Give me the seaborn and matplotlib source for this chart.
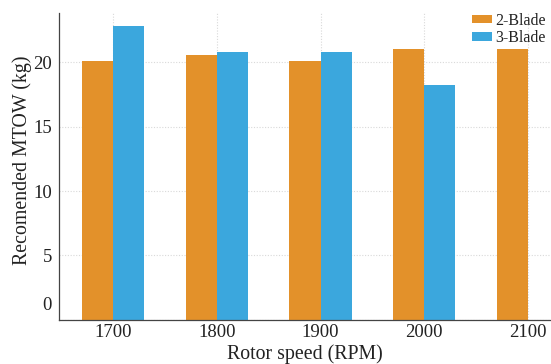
import numpy as np
import pandas as pd
import matplotlib
matplotlib.use("Agg")
import matplotlib.pyplot as plt
import matplotlib.transforms as mtransforms
import seaborn as sns

rpm = ["1700", "1800", "1900", "2000", "2100"]
two_blade = [20.05, 20.55, 20.05, 21.05, 21.05]
three_blade = [22.8, 20.8, 20.8, 18.2, np.nan]
series_names = ["2-Blade", "3-Blade"]
colors = ["#e3912a", "#3ba7dd"]

df = pd.DataFrame({
    "rpm": rpm * 2,
    "mtow": two_blade + three_blade,
    "blade": [series_names[0]] * len(rpm) + [series_names[1]] * len(rpm),
})

sns.set_theme(style="white")
plt.rcParams["font.family"] = ["Liberation Serif", "DejaVu Serif"]

fig = plt.figure(figsize=(5.51, 3.64), dpi=100)
ax = fig.add_axes([0.107, 0.121, 0.893, 0.843])

sns.barplot(data=df, x="rpm", y="mtow", hue="blade", order=rpm,
            hue_order=series_names, palette=colors, width=0.6,
            saturation=1, linewidth=0, ax=ax)

ax.set_xlim(-0.52, 4.22)
ax.set_ylim(0, 23.8)
ax.set_yticks([0, 5, 10, 15, 20])
ax.grid(True, color="#d9d9d9", linestyle=(0, (1, 1.5)), linewidth=0.8)
ax.set_axisbelow(True)
sns.despine(ax=ax)
for s in ["left", "bottom"]:
    ax.spines[s].set_color("#444444")
    ax.spines[s].set_linewidth(0.9)
ax.tick_params(axis="both", length=0, labelsize=13.5, colors="#222222")
ax.tick_params(axis="x", pad=3)
ax.tick_params(axis="y", pad=5)

# the zero label sits a little above the axis in the original
lab0 = ax.get_yticklabels()[0]
lab0.set_transform(lab0.get_transform() + mtransforms.ScaledTranslation(0, 16 / 100, fig.dpi_scale_trans))

ax.set_xlabel("Rotor speed (RPM)", fontsize=14.3, color="#222222", labelpad=2)
ax.set_ylabel("Recomended MTOW (kg)", fontsize=14.3, color="#222222")
ax.yaxis.set_label_coords(-0.055, 0.52)

leg = ax.legend(loc="upper right", bbox_to_anchor=(1.008, 1.03), frameon=False,
                fontsize=11.5, handlelength=1.2, handleheight=0.45,
                handletextpad=0.25, labelspacing=0.1, borderaxespad=0.15)
for t in leg.get_texts():
    t.set_color("#222222")

fig.savefig("out.png", dpi=100)
